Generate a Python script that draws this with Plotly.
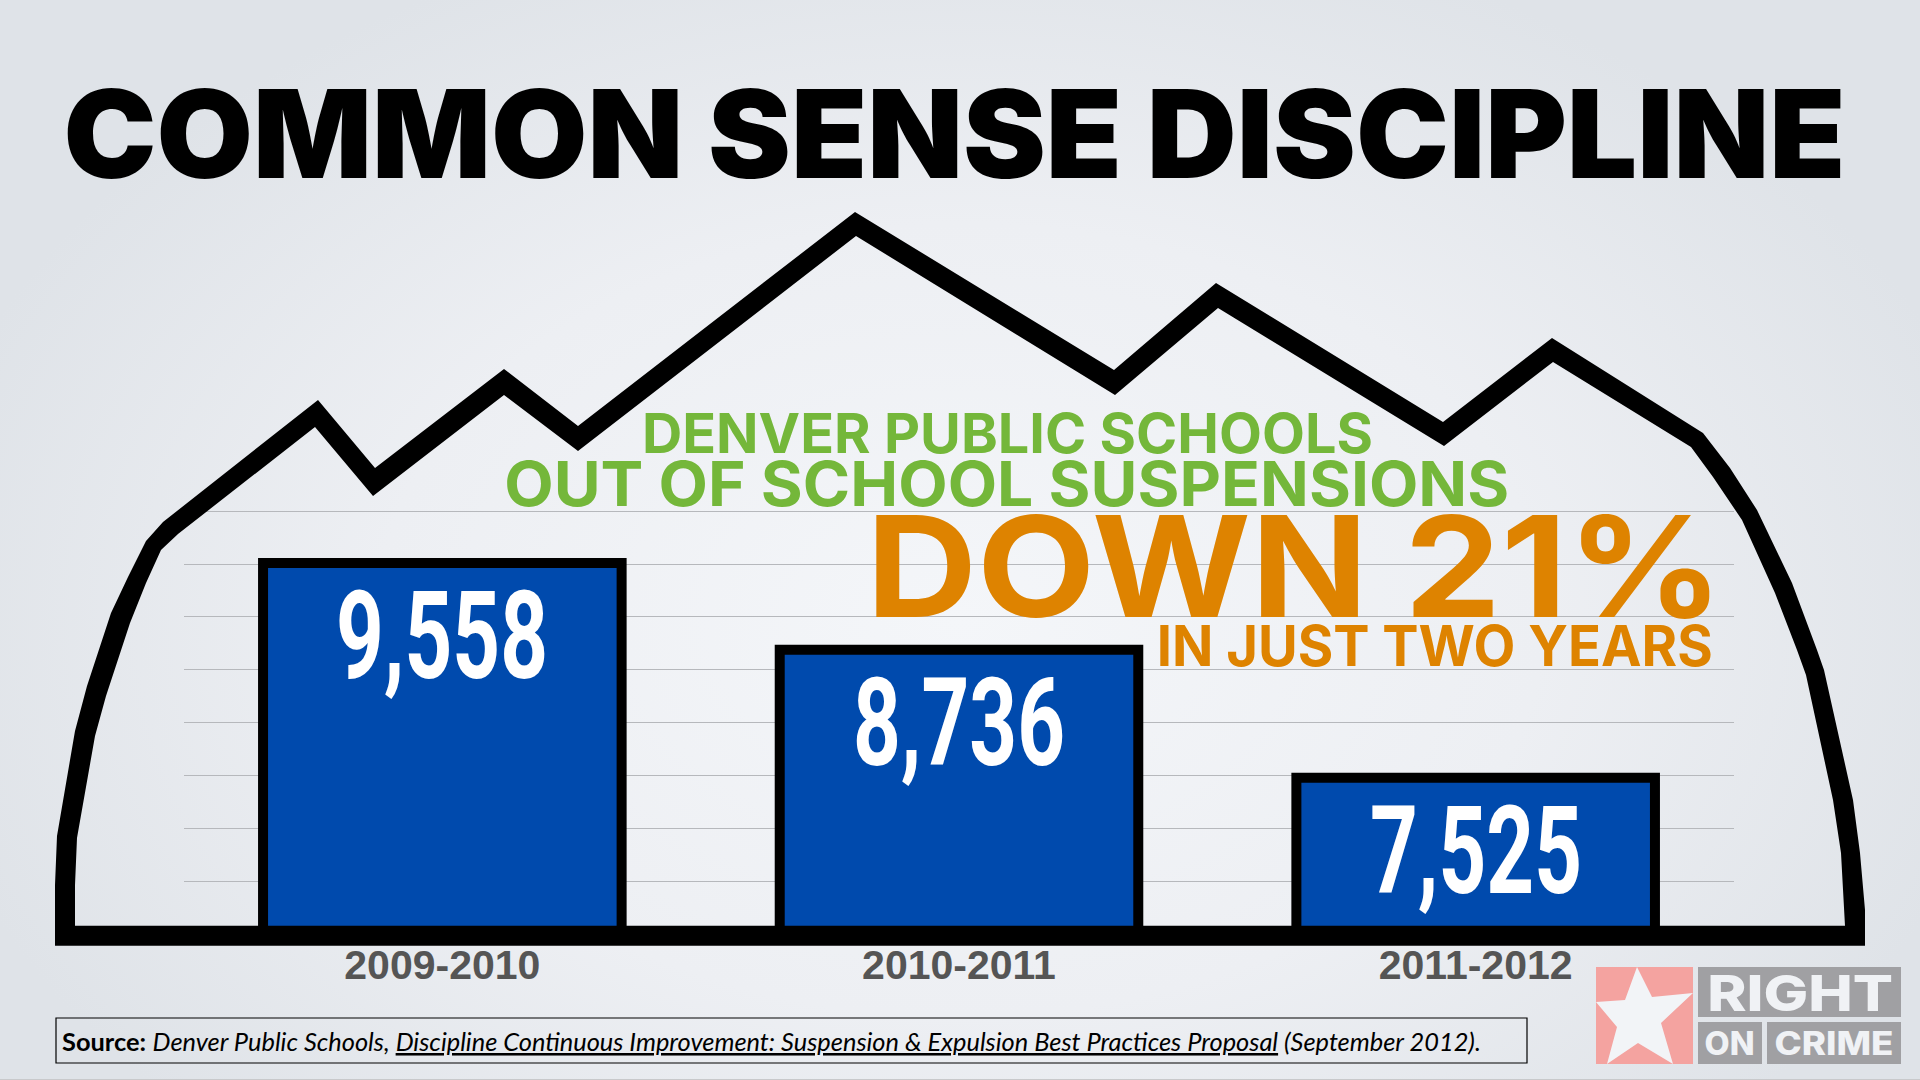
import json

import plotly.graph_objects as go

# chart values
SEASONS = ["2009-2010", "2010-2011", "2011-2012"]
SUSPENSIONS = [9558, 8736, 7525]
VALUE_LABELS = ["9,558", "8,736", "7,525"]

TITLE = "COMMON SENSE DISCIPLINE"
SOURCE = (
    "<b>Source:</b> <i>Denver Public Schools, <u>Discipline Continuous Improvement: "
    "Suspension &amp; Expulsion Best Practices Proposal</u> (September 2012).</i>"
)

# schoolhouse/mountain outline in page pixels
ROOF_OUTER_X = [55, 55, 57, 75, 87, 111, 128, 146, 163, 318, 375, 504, 578, 855, 1114,
                1216, 1443, 1552, 1703, 1730, 1757, 1792, 1817, 1824, 1853, 1860, 1865, 1865]
ROOF_OUTER_Y = [945, 885, 836, 731, 686, 613, 577, 541, 522, 400, 468, 369, 426, 212, 370,
                283, 422, 338, 433, 468, 510, 583, 650, 670, 800, 853, 910, 945]
ROOF_INNER_X = [75, 75, 77, 95, 106, 130, 146, 161, 178, 315, 373, 504, 578, 856, 1115,
                1218, 1444, 1553, 1691, 1713, 1742, 1775, 1797, 1806, 1833, 1841, 1845]
ROOF_INNER_Y = [926, 885, 838, 736, 696, 623, 583, 550, 534, 427, 496, 395, 451, 236, 395,
                308, 446, 362, 447, 477, 520, 593, 650, 675, 800, 853, 926]

STAR_X = [1637, 1652, 1693, 1661, 1673, 1638, 1607, 1617, 1596, 1625]
STAR_Y = [967, 997, 993, 1023, 1064, 1043, 1064, 1027, 1002, 1000]

W, H = 1920, 1080
BASE_PX, UNIT_PX = 934, 52.85 / 500
GRID_LEFT, GRID_RIGHT = 184, 1734
Y_MIN, Y_MAX = 6000, 10010
TOP_PX = BASE_PX - (Y_MAX - Y_MIN) * UNIT_PX
STROKE = 10
# bar outline is centred on the edge, so shift the bars axis by half a stroke
SHIFT = (STROKE / 2) / UNIT_PX

BLACK = "#000000"
BLUE = "#004aad"
GREEN = "#74b73a"
ORANGE = "#de8300"
LOGO_TEXT = "#f0f2f5"
HEAVY = "Inter"

# widths the texts have in the picture, px
TEXT_WIDTHS = {
    TITLE: 1782,
    "DENVER PUBLIC SCHOOLS": 731,
    "OUT OF SCHOOL SUSPENSIONS": 1005,
    "DOWN 21%": 857,
    "IN JUST TWO YEARS": 556,
    "RIGHT": 186,
    "ON": 50,
    "CRIME": 119,
    "9,558": 212,
    "8,736": 212,
    "7,525": 212,
}

fig = go.Figure()

# page background
fig.add_trace(go.Scatter(
    x=[-100, W + 100, W + 100, -100], y=[-100, -100, H + 260, H + 260],
    mode="lines", fill="toself", line=dict(width=0), hoverinfo="skip",
    fillgradient=dict(type="radial", colorscale=[[0, "#f4f6f9"], [0.55, "#edeff3"], [1, "#dfe3e8"]]),
    xaxis="x", yaxis="y",
))

# holds the grid axis
fig.add_trace(go.Scatter(
    x=SEASONS, y=SUSPENSIONS, mode="markers", marker=dict(opacity=0),
    hoverinfo="skip", xaxis="x2", yaxis="y2",
))

fig.add_trace(go.Bar(
    x=SEASONS, y=SUSPENSIONS, width=0.694,
    marker=dict(color=BLUE, line=dict(color=BLACK, width=STROKE)),
    xaxis="x2", yaxis="y3",
))

fig.add_trace(go.Scatter(
    x=ROOF_OUTER_X + ROOF_INNER_X[::-1], y=ROOF_OUTER_Y + ROOF_INNER_Y[::-1],
    mode="lines", fill="toself", fillcolor=BLACK, line=dict(width=0), hoverinfo="skip",
    xaxis="x3", yaxis="y4",
))

shapes = [
    dict(type="rect", xref="x3", yref="y4", x0=55, x1=1865, y0=925.7, y1=945.7,
         fillcolor=BLACK, line_width=0),
    dict(type="rect", xref="x3", yref="y4", x0=56, x1=1527, y0=1018, y1=1063,
         line=dict(color=BLACK, width=1.2)),
    dict(type="rect", xref="x3", yref="y4", x0=1596, x1=1693, y0=967, y1=1064,
         fillcolor="#f4a3a0", line_width=0),
    dict(type="rect", xref="x3", yref="y4", x0=1698, x1=1901, y0=967, y1=1017,
         fillcolor="#a0a0a3", line_width=0),
    dict(type="rect", xref="x3", yref="y4", x0=1698, x1=1762, y0=1022, y1=1064,
         fillcolor="#a0a0a3", line_width=0),
    dict(type="rect", xref="x3", yref="y4", x0=1767, x1=1901, y0=1022, y1=1064,
         fillcolor="#a0a0a3", line_width=0),
    dict(type="path", xref="x3", yref="y4", fillcolor="#f2f4f7", line_width=0,
         path="M " + " L ".join(f"{a},{b}" for a, b in zip(STAR_X, STAR_Y)) + " Z"),
    dict(type="line", xref="paper", yref="y4", x0=0, x1=1, y0=1079.5, y1=1079.5,
         line=dict(color="#c8c9cb", width=1)),
]


def page_text(text, x, y, size, color, anchor="center", weight=700, family=HEAVY):
    return dict(
        text=text, x=x, y=y, xref="x3", yref="y4", xanchor=anchor, yanchor="middle",
        showarrow=False, font=dict(family=family, size=size, color=color, weight=weight),
    )


annotations = [
    page_text(TITLE, 954, 133, 122, BLACK, weight=900),
    page_text("DENVER PUBLIC SCHOOLS", 1007, 433, 55, GREEN),
    page_text("OUT OF SCHOOL SUSPENSIONS", 1006, 483, 62, GREEN),
    page_text("DOWN 21%", 1294, 566, 140, ORANGE),
    page_text("IN JUST TWO YEARS", 1434, 646, 56, ORANGE),
    page_text(SOURCE, 60, 1041, 25.4, BLACK, "left", 400, "Lato"),
    page_text("RIGHT", 1800, 993, 50, LOGO_TEXT, weight=800),
    page_text("ON", 1729, 1043, 32, LOGO_TEXT, weight=800),
    page_text("CRIME", 1833.5, 1043, 32, LOGO_TEXT, weight=800),
]

for i, label in enumerate(VALUE_LABELS):
    annotations.append(dict(
        text=label, x=SEASONS[i], y=SUSPENSIONS[i], xref="x2", yref="y2", yanchor="middle",
        yshift=-79, showarrow=False,
        font=dict(family="Roboto", size=122, color="#ffffff", weight=700),
    ))

chart_y = [(H - BASE_PX) / H, (H - TOP_PX) / H]
hidden = dict(visible=False, showgrid=False, zeroline=False)

fig.update_layout(
    width=W, height=H,
    autosize=False,
    margin=dict(l=0, r=0, t=0, b=0),
    showlegend=False,
    paper_bgcolor="#eef0f4",
    plot_bgcolor="rgba(0,0,0,0)",
    barmode="overlay",
    xaxis=dict(domain=[0, 1], range=[0, W], anchor="y", **hidden),
    yaxis=dict(domain=[0, 1], range=[H, 0], anchor="x", **hidden),
    xaxis2=dict(
        domain=[GRID_LEFT / W, GRID_RIGHT / W], range=[-0.5, 2.5], anchor="y2",
        type="category", categoryorder="array", categoryarray=SEASONS,
        showgrid=False, zeroline=False, showline=False, ticks="",
        ticklabelstandoff=3,
        tickfont=dict(family="Liberation Sans", size=41, color="#555555", weight=700),
    ),
    yaxis2=dict(
        domain=chart_y, range=[Y_MIN, Y_MAX], anchor="x2", tick0=Y_MIN, dtick=500,
        showgrid=True, gridcolor="#b6b8bc", gridwidth=1, zeroline=False,
        showticklabels=False, ticks="",
    ),
    yaxis3=dict(
        domain=chart_y, range=[Y_MIN + SHIFT, Y_MAX + SHIFT], anchor="x2", overlaying="y2",
        showgrid=False, zeroline=False, showticklabels=False, ticks="",
    ),
    xaxis3=dict(domain=[0, 1], range=[0, W], anchor="y4", **hidden),
    yaxis4=dict(domain=[0, 1], range=[H, 0], anchor="x3", **hidden),
    shapes=shapes,
    annotations=annotations,
)

# no page margin; fit texts to the widths of the original's fonts
POST = """
document.body.style.margin = '0';
var widths = %s;
document.querySelectorAll('.annotation-text').forEach(function (t) {
  var w = widths[t.textContent];
  if (w) {
    t.setAttribute('textLength', w);
    t.setAttribute('lengthAdjust', 'spacingAndGlyphs');
  }
});
""" % json.dumps(TEXT_WIDTHS)

fig.write_html("out.html", post_script=POST, config=dict(displayModeBar=False))
